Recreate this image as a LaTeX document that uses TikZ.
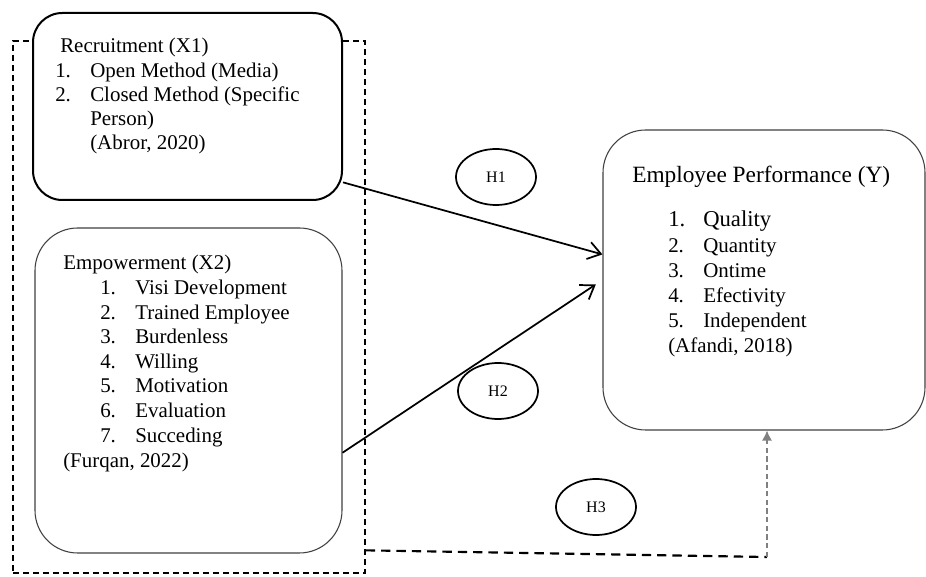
\documentclass[tikz,border=0pt]{standalone}
\usepackage{fontspec}
\setmainfont{Liberation Serif}
\usetikzlibrary{arrows.meta,shapes.geometric}
\definecolor{boxgray}{HTML}{404040}
\definecolor{dashgray}{HTML}{808080}
\begin{document}
\begin{tikzpicture}[x=0.75pt,y=-0.75pt,
  txt/.style={anchor=base west,inner sep=0pt,font=\fontsize{15.7}{18}\selectfont},
  bigtxt/.style={anchor=base west,inner sep=0pt,font=\fontsize{17.5}{20}\selectfont},
  midtxt/.style={anchor=base west,inner sep=0pt,font=\fontsize{17}{20}\selectfont},
  htxt/.style={ellipse,draw,line width=1.3pt,minimum width=60pt,minimum height=42pt,inner sep=0pt,font=\fontsize{12}{14}\selectfont},
  outerbox/.style={rectangle,draw,line width=1.2pt,dash pattern=on 4.5pt off 3pt,minimum width=264pt,minimum height=399pt,inner sep=0pt},
  thickbox/.style={rectangle,draw,fill=white,line width=1.5pt,rounded corners=22pt,inner sep=0pt},
  thinbox/.style={rectangle,draw=boxgray,fill=white,line width=0.8pt,rounded corners=32pt,inner sep=0pt},
  harrow/.style={line width=1.3pt,-{Straight Barb[length=9.5pt,width=13pt,line width=1.3pt]}},
]
\useasboundingbox (0,0) rectangle (926,577);

% outer dashed frame
\node[outerbox] (outer) at (189,307) {};

% boxes
\node[thickbox,minimum width=231.75pt,minimum height=140.25pt] (rec) at (187.5,106.5) {};
\node[thinbox,minimum width=230.25pt,minimum height=243.75pt] (empw) at (188.5,390.5) {};
\node[thinbox,minimum width=241.5pt,minimum height=225pt] (perf) at (764,280) {};

% Recruitment text
\node[txt] (r0) at (60,53) {Recruitment (X1)};
\node[txt] (r1n) at (55,77.5) {1.};
\node[txt] (r1) at (90,77.5) {Open Method (Media)};
\node[txt] (r2n) at (55,102) {2.};
\node[txt] (r2) at (90,102) {Closed Method (Specific};
\node[txt] (r3) at (90,126) {Person)};
\node[txt] (r4) at (90,150) {(Abror, 2020)};

% Empowerment text
\node[txt] (e0) at (63,270) {Empowerment (X2)};
\node[txt] (e1n) at (100,295) {1.};
\node[txt] (e1) at (135,295) {Visi Development};
\node[txt] (e2n) at (100,319.5) {2.};
\node[txt] (e2) at (135,319.5) {Trained Employee};
\node[txt] (e3n) at (100,344) {3.};
\node[txt] (e3) at (135,344) {Burdenless};
\node[txt] (e4n) at (100,368.5) {4.};
\node[txt] (e4) at (135,368.5) {Willing};
\node[txt] (e5n) at (100,393) {5.};
\node[txt] (e5) at (135,393) {Motivation};
\node[txt] (e6n) at (100,418) {6.};
\node[txt] (e6) at (135,418) {Evaluation};
\node[txt] (e7n) at (100,443) {7.};
\node[txt] (e7) at (135,443) {Succeding};
\node[txt] (e8) at (63,468) {(Furqan, 2022)};

% Employee performance text
\node[bigtxt] (p0) at (632,183) {Employee Performance (Y)};
\node[midtxt] (p1n) at (668,227) {1.};
\node[midtxt] (p1) at (703,227) {Quality};
\node[txt] (p2n) at (668,253) {2.};
\node[txt] (p2) at (703,253) {Quantity};
\node[txt] (p3n) at (668,278) {3.};
\node[txt] (p3) at (703,278) {Ontime};
\node[txt] (p4n) at (668,303) {4.};
\node[txt] (p4) at (703,303) {Efectivity};
\node[txt] (p5n) at (668,328) {5.};
\node[txt] (p5) at (703,328) {Independent};
\node[txt] (p6) at (668,353) {(Afandi, 2018)};

% hypothesis labels
\node[htxt] (h1) at (496,177) {H1};
\node[htxt] (h2) at (498,391) {H2};
\node[htxt] (h3) at (596,507) {H3};

% connectors
\draw[harrow] (rec.-26) -- (perf.171.9);
\draw[harrow,shorten >=6pt] (empw.-22.15) -- (perf.west);
\coordinate (h3corner) at (767,557);
\draw[line width=1.6pt,dash pattern=on 7pt off 4.5pt] (outer.-54.4) -- (h3corner);
\draw[dashgray,line width=1pt,dash pattern=on 4pt off 2.5pt,-{Latex[length=7.5pt,width=7.5pt]}] (h3corner) -- (h3corner |- perf.south);
\end{tikzpicture}
\end{document}
